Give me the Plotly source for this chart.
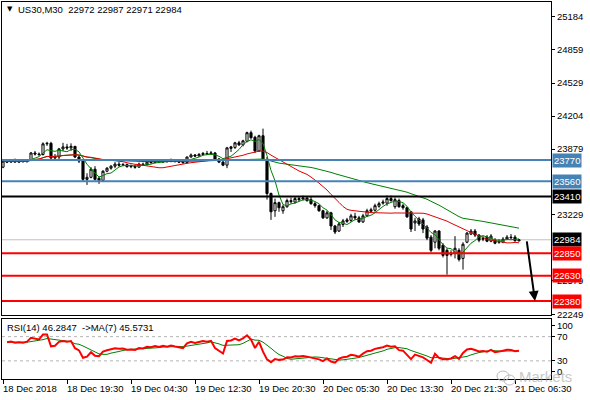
import plotly.graph_objects as go
import pandas as pd
import numpy as np

# ---------------- data ----------------
tick_bars = [0, 16, 32, 48, 64, 80, 96, 112, 128]
tick_labels = ["18 Dec 2018", "18 Dec 19:30", "19 Dec 04:30", "19 Dec 12:30", "19 Dec 20:30",
               "20 Dec 05:30", "20 Dec 13:30", "20 Dec 21:30", "21 Dec 06:30"]

price_ticks = [25184, 24859, 24529, 24204, 23879, 23229, 22579, 22249]

open_ = [23700, 23760, 23750, 23765, 23750, 23760, 23755, 23770, 23840, 23830,
         23825, 23930, 23935, 23790, 23800, 23880, 23900, 23890, 23905, 23800,
         23760, 23580, 23600, 23680, 23590, 23570, 23660, 23690, 23710, 23730,
         23720, 23725, 23705, 23710, 23700, 23730, 23725, 23750, 23745, 23760,
         23750, 23765, 23755, 23770, 23760, 23750, 23745, 23800, 23820, 23810,
         23825, 23835, 23830, 23840, 23780, 23750, 23720, 23885, 23895, 23940,
         23920, 23955, 24040, 23995, 23860, 24010, 23770, 23440, 23270, 23350,
         23270, 23310, 23370, 23355, 23390, 23385, 23395, 23380, 23340, 23320,
         23270, 23200, 23250, 23120, 23070, 23135, 23165, 23175, 23215, 23200,
         23160, 23220, 23265, 23275, 23315, 23345, 23345, 23390, 23310, 23370,
         23320, 23300, 23260, 23150, 23190, 23180, 23110, 23010, 22960, 23070,
         22930, 22880, 22840, 22850, 22880, 22800, 22960, 23040, 23070, 23030,
         22990, 23010, 22970, 22980, 22960, 22960, 22990, 23010, 23010, 22972]
high = [23775, 23775, 23780, 23785, 23775, 23775, 23780, 23850, 23860, 23845,
        23945, 23950, 23950, 23830, 23890, 23940, 23930, 23935, 23910, 23820,
        23780, 23640, 23700, 23710, 23610, 23670, 23700, 23720, 23750, 23750,
        23740, 23735, 23725, 23720, 23745, 23745, 23765, 23765, 23775, 23775,
        23780, 23775, 23785, 23780, 23775, 23765, 23805, 23835, 23830, 23840,
        23850, 23860, 23860, 23850, 23790, 23765, 23900, 23910, 23950, 23960,
        23970, 24050, 24060, 24010, 24020, 24080, 23800, 23450, 23390, 23360,
        23330, 23390, 23400, 23410, 23410, 23420, 23410, 23410, 23360, 23330,
        23280, 23270, 23260, 23130, 23160, 23190, 23200, 23240, 23250, 23220,
        23240, 23290, 23300, 23340, 23360, 23380, 23420, 23420, 23400, 23390,
        23340, 23310, 23260, 23200, 23210, 23200, 23130, 23030, 23080, 23080,
        22950, 22900, 22880, 23020, 22900, 22960, 23060, 23090, 23090, 23040,
        23020, 23030, 23040, 23000, 22990, 23010, 23030, 23040, 23030, 22987]
low = [23690, 23740, 23745, 23745, 23740, 23745, 23745, 23760, 23815, 23810,
       23815, 23910, 23780, 23775, 23780, 23860, 23870, 23860, 23790, 23740,
       23560, 23525, 23590, 23570, 23535, 23560, 23650, 23675, 23690, 23705,
       23710, 23695, 23690, 23685, 23695, 23715, 23720, 23735, 23740, 23740,
       23745, 23745, 23750, 23745, 23740, 23735, 23740, 23795, 23800, 23805,
       23815, 23820, 23825, 23775, 23740, 23710, 23690, 23850, 23880, 23910,
       23905, 23945, 23980, 23840, 23850, 23760, 23380, 23180, 23210, 23260,
       23240, 23300, 23340, 23340, 23360, 23370, 23360, 23330, 23300, 23260,
       23190, 23190, 23080, 23040, 23060, 23110, 23150, 23160, 23180, 23150,
       23150, 23210, 23250, 23260, 23300, 23330, 23320, 23360, 23290, 23300,
       23280, 23200, 23060, 23070, 23120, 23050, 22980, 22860, 22900, 22880,
       22810, 22640, 22820, 22800, 22770, 22690, 22950, 23030, 23010, 22960,
       22970, 22960, 22960, 22940, 22945, 22950, 22980, 22990, 22965, 22971]
close = [23760, 23750, 23765, 23750, 23760, 23755, 23770, 23840, 23830, 23825,
         23930, 23935, 23790, 23800, 23880, 23900, 23890, 23905, 23800, 23760,
         23580, 23600, 23680, 23580, 23570, 23660, 23690, 23710, 23730, 23720,
         23725, 23705, 23710, 23700, 23730, 23725, 23750, 23745, 23760, 23750,
         23765, 23755, 23770, 23760, 23750, 23745, 23800, 23820, 23810, 23825,
         23835, 23830, 23840, 23780, 23750, 23720, 23890, 23900, 23940, 23920,
         23960, 24040, 23990, 23860, 24010, 23770, 23440, 23260, 23350, 23300,
         23310, 23370, 23360, 23390, 23380, 23395, 23370, 23340, 23320, 23270,
         23200, 23250, 23120, 23060, 23140, 23170, 23180, 23220, 23200, 23160,
         23220, 23270, 23280, 23320, 23340, 23355, 23390, 23370, 23380, 23310,
         23300, 23210, 23090, 23170, 23140, 23090, 23000, 22880, 23070, 22900,
         22830, 22830, 22850, 22900, 22790, 22940, 23050, 23070, 23030, 22980,
         22995, 22970, 23020, 22950, 22965, 22990, 23010, 23005, 22975, 22984]

level_values = [23770, 23560, 23410, 22850, 22630, 22380]
title_text = "US30,M30  22972 22987 22971 22984"
rsi_text = "RSI(14) 46.2847  ->MA(7) 45.5731"

# ---------------- derived series ----------------
n = len(close)
bars = list(range(n))
cs = pd.Series(close, dtype=float)
ma_fast = cs.rolling(5, min_periods=1).mean()
ma_mid = cs.rolling(21, min_periods=1).mean()
ma_slow = cs.rolling(50, min_periods=1).mean()

# RSI(14), Wilder smoothing, warmed up with the average of the first 14 changes
diff = cs.diff().fillna(0).values
gains = np.clip(diff, 0, None)
losses = np.clip(-diff, 0, None)
ag = gains[1:15].mean()
al = losses[1:15].mean()
rsi = [np.nan] * n
for i in range(1, n):
    ag = (ag * 13 + gains[i]) / 14
    al = (al * 13 + losses[i]) / 14
    rsi[i] = 100 * ag / (ag + al) if (ag + al) > 0 else 50
rsi = pd.Series(rsi)
rsi_ma = rsi.rolling(7, min_periods=1).mean()

# ---------------- figure ----------------
FONT = "Tahoma, 'Liberation Sans', Arial, sans-serif"
W, H = 590, 400
ML, MR, MT, MB = 2, 39, 2, 21
plot_h = H - MT - MB
price_bottom_px = 315
rsi_top_px = 318.5
y_price_dom = [(H - MB - price_bottom_px) / plot_h, 1]
y_rsi_dom = [0, (H - MB - rsi_top_px) / plot_h]
x_range = [-0.25, 137]

fig = go.Figure()

fig.add_trace(go.Scatter(x=bars, y=ma_slow, mode="lines", line=dict(color="#008000", width=1),
                         xaxis="x", yaxis="y", hoverinfo="skip", showlegend=False))
fig.add_trace(go.Scatter(x=bars, y=ma_mid, mode="lines", line=dict(color="#e00000", width=1),
                         xaxis="x", yaxis="y", hoverinfo="skip", showlegend=False))
fig.add_trace(go.Scatter(x=bars, y=ma_fast, mode="lines", line=dict(color="#008000", width=1),
                         xaxis="x", yaxis="y", hoverinfo="skip", showlegend=False))
fig.add_trace(go.Candlestick(
    x=bars, open=open_, high=high, low=low, close=close,
    increasing=dict(fillcolor="white", line=dict(color="black", width=1)),
    decreasing=dict(fillcolor="black", line=dict(color="black", width=1)),
    whiskerwidth=0, xaxis="x", yaxis="y", showlegend=False, hoverinfo="skip"))

fig.add_trace(go.Scatter(x=bars, y=rsi_ma, mode="lines", line=dict(color="#008000", width=1),
                         xaxis="x2", yaxis="y2", hoverinfo="skip", showlegend=False))
fig.add_trace(go.Scatter(x=bars, y=rsi, mode="lines", line=dict(color="#ff0000", width=2),
                         xaxis="x2", yaxis="y2", hoverinfo="skip", showlegend=False))

shapes = []
level_styles = [("#4682b4", 2), ("#4682b4", 2), ("#000000", 2),
                ("#ff0000", 2), ("#ff0000", 2), ("#ff0000", 2)]
# current price line
shapes.append(dict(type="line", xref="x domain", yref="y", x0=0, x1=1, y0=close[-1], y1=close[-1],
                   line=dict(color="#c0c0c0", width=1), layer="below"))
for v, (col, w) in zip(level_values, level_styles):
    shapes.append(dict(type="line", xref="x domain", yref="y", x0=0, x1=1, y0=v, y1=v,
                       line=dict(color=col, width=w)))
for v in (70, 30):
    shapes.append(dict(type="line", xref="x2 domain", yref="y2", x0=0, x1=1, y0=v, y1=v,
                       line=dict(color="#b4b4b4", width=1, dash="3px,3px"), layer="below"))

annotations = []
# right-side price boxes
box_items = [(level_values[0], "#4682b4"), (level_values[1], "#4682b4"), (level_values[2], "#000000"),
             (close[-1], "#000000"), (level_values[3], "#ff0000"), (level_values[4], "#ff0000"),
             (level_values[5], "#ff0000")]
for v, col in box_items:
    annotations.append(dict(xref="paper", x=1, xanchor="left", xshift=1, yref="y", y=v,
                            text=str(v), showarrow=False, bgcolor=col, borderpad=1,
                            font=dict(family=FONT, size=9.5, color="white")))
# x labels
for b, t in zip(tick_bars, tick_labels):
    annotations.append(dict(xref="x2", x=b, xanchor="left", xshift=-2, yref="paper", y=0,
                            yanchor="top", yshift=-2, text=t, showarrow=False,
                            font=dict(family=FONT, size=9.5, color="black")))


def px_x(p):
    return (p - ML) / (W - ML - MR)


def px_y(p):
    return (H - MB - p) / plot_h


annotations.append(dict(xref="paper", yref="paper", x=px_x(5), y=px_y(9), xanchor="left",
                        yanchor="middle", text="▼", showarrow=False,
                        font=dict(family="DejaVu Sans", size=7, color="black")))
annotations.append(dict(xref="paper", yref="paper", x=px_x(16), y=px_y(9), xanchor="left",
                        yanchor="middle", text=title_text, showarrow=False,
                        font=dict(family=FONT, size=9.5, color="black")))
annotations.append(dict(xref="paper", yref="paper", x=px_x(5), y=px_y(327), xanchor="left",
                        yanchor="middle", text=rsi_text, showarrow=False,
                        font=dict(family=FONT, size=9.5, color="black")))
# arrow
annotations.append(dict(xref="x", yref="y", x=133, y=level_values[5], axref="x", ayref="y",
                        ax=130.9, ay=close[-1], showarrow=True, arrowhead=2, arrowsize=1,
                        arrowwidth=2, arrowcolor="black", text=""))
# watermark
annotations.append(dict(xref="paper", yref="paper", x=px_x(545), y=px_y(376), xanchor="center",
                        yanchor="middle", text="Markets", showarrow=False, opacity=0.55,
                        font=dict(family="Liberation Sans, Arial", size=15, color="#9a9a9a")))
shapes.append(dict(type="circle", xref="paper", yref="paper", x0=px_x(497), x1=px_x(509),
                   y0=px_y(381), y1=px_y(371), line=dict(color="#bbbbbb", width=1)))
shapes.append(dict(type="circle", xref="paper", yref="paper", x0=px_x(504), x1=px_x(515),
                   y0=px_y(385), y1=px_y(375), line=dict(color="#bbbbbb", width=1)))

axis_common = dict(showgrid=False, zeroline=False, showline=True, mirror=True,
                   linecolor="black", linewidth=1)

fig.update_layout(
    width=W, height=H,
    margin=dict(l=ML, r=MR, t=MT, b=MB),
    paper_bgcolor="white", plot_bgcolor="white",
    showlegend=False,
    font=dict(family=FONT, size=9.5, color="black"),
    boxgap=0.25,
    xaxis=dict(domain=[0, 1], anchor="y", range=x_range, showticklabels=False, ticks="",
               rangeslider=dict(visible=False), **axis_common),
    xaxis2=dict(domain=[0, 1], anchor="y2", range=x_range, tickvals=tick_bars, ticks="outside",
                ticklen=4, tickcolor="black", showticklabels=False, **axis_common),
    yaxis=dict(domain=y_price_dom, anchor="x", side="right", range=[22242, 25329],
               tickvals=price_ticks, ticktext=[str(t) for t in price_ticks], ticks="outside",
               ticklen=3, tickcolor="black", tickfont=dict(family=FONT, size=9.5), **axis_common),
    yaxis2=dict(domain=y_rsi_dom, anchor="x2", side="right", range=[0, 100],
                tickvals=[88, 70, 30, 12], ticktext=["100", "70", "30", "0"], ticks="outside",
                ticklen=3, tickcolor="black", tickfont=dict(family=FONT, size=9.5), **axis_common),
    shapes=shapes,
    annotations=annotations,
)

fig.write_html("out.html", config={"displayModeBar": False},
               post_script="document.body.style.margin='0px';")
